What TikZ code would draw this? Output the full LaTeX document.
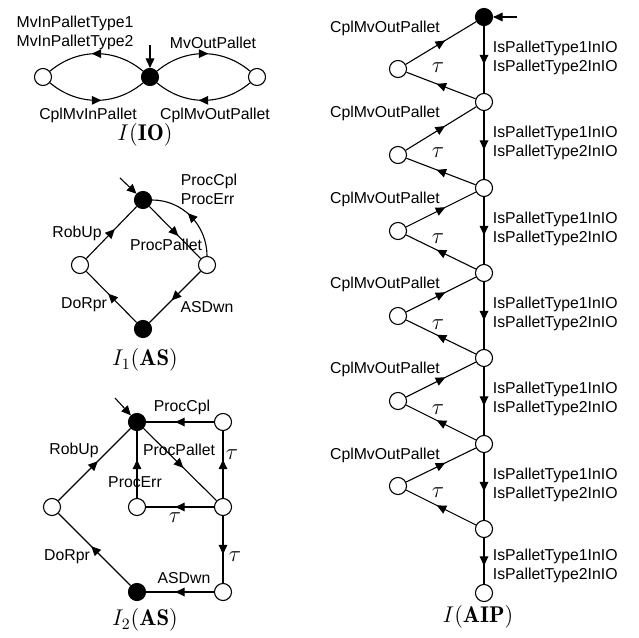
\documentclass[tikz,border=0pt]{standalone}
\usepackage{fontspec}
\newfontfamily\arialfont{Liberation Sans}
\usetikzlibrary{arrows.meta,decorations.markings}
\tikzset{
  st/.style={circle, draw, line width=0.7pt, minimum size=10.8pt, inner sep=0pt, fill=white},
  ist/.style={st, fill=black},
  lbl/.style={font=\arialfont\fontsize{10}{12}\selectfont, inner sep=1pt},
  mlbl/.style={font=\Large, inner sep=1pt},
  tr/.style={line width=0.7pt, postaction={decorate},
    decoration={markings, mark=at position 0.5 with {\arrow[xshift=3pt]{Triangle[length=6pt,width=5.5pt]}}}},
  init/.style={line width=0.7pt, -{Triangle[length=6pt,width=5.5pt]}},
}
\begin{document}
\begin{tikzpicture}[x=0.633pt, y=-0.633pt]
  \useasboundingbox (0,0) rectangle (639,637);
  % I(IO)
  \node[st] (ioL) at (43,77) {}; \node[ist] (io0) at (150,77) {}; \node[st] (ioR) at (257,77) {};
  \coordinate (io0in) at (150,45); \draw[init] (io0in) -- (io0);
  \draw[tr] (io0) to[bend right=40] (ioL); \draw[tr] (ioL) to[bend right=40] (io0);
  \draw[tr] (io0) to[bend left=40] (ioR); \draw[tr] (ioR) to[bend left=40] (io0);
  \node[lbl, align=left] (ioLa) at (75,33) {MvInPalletType1\\MvInPalletType2};
  \node[lbl] (ioLb) at (88,115) {CplMvInPallet};
  \node[lbl] (ioRa) at (213,43) {MvOutPallet};
  \node[lbl] (ioRb) at (215,115) {CplMvOutPallet};
  \node[mlbl] (ioT) at (145,135) {$I(\mathbf{IO})$};
  % I_1(AS)
  \node[ist] (a1t) at (143,200) {}; \node[st] (a1l) at (80,265) {};
  \node[st] (a1r) at (207,265) {}; \node[ist] (a1b) at (143,329) {};
  \coordinate (a1in) at (120,178); \draw[init] (a1in) -- (a1t);
  \draw[tr] (a1l) -- (a1t); \draw[tr] (a1t) -- (a1r); \draw[tr] (a1r) to[out=90, in=0] (a1t);
  \draw[tr] (a1r) -- (a1b); \draw[tr] (a1b) -- (a1l);
  \node[lbl] (a1la) at (77,233) {RobUp};
  \node[lbl] (a1lb) at (166,245) {ProcPallet};
  \node[lbl, align=left] (a1lc) at (209,189) {ProcCpl\\ProcErr};
  \node[lbl] (a1ld) at (84,305) {DoRpr};
  \node[lbl] (a1le) at (207,307) {ASDwn};
  \node[mlbl] (a1T) at (145,360) {$I_1(\mathbf{AS})$};
  % I_2(AS)
  \node[ist] (a2t) at (137,422) {}; \node[st] (a2tr) at (223,422) {};
  \node[st] (a2l) at (52,507) {}; \node[st] (a2m) at (137,507) {}; \node[st] (a2r) at (223,507) {};
  \node[ist] (a2b) at (137,592) {}; \node[st] (a2br) at (223,592) {};
  \coordinate (a2in) at (115,398); \draw[init] (a2in) -- (a2t);
  \draw[tr] (a2tr) -- (a2t); \draw[tr] (a2r) -- (a2tr); \draw[tr] (a2t) -- (a2r);
  \draw[tr] (a2m) -- (a2t); \draw[tr] (a2r) -- (a2m); \draw[tr] (a2r) -- (a2br);
  \draw[tr] (a2br) -- (a2b); \draw[tr] (a2b) -- (a2l); \draw[tr] (a2l) -- (a2t);
  \node[lbl] (a2la) at (182,407) {ProcCpl};
  \node[mlbl] (a2lb) at (232,455) {$\tau$};
  \node[lbl] (a2lc) at (179,450) {ProcPallet};
  \node[lbl] (a2ld) at (135,482) {ProcErr};
  \node[mlbl] (a2le) at (175,518) {$\tau$};
  \node[mlbl] (a2lf) at (235,557) {$\tau$};
  \node[lbl] (a2lg) at (67,557) {DoRpr};
  \node[lbl] (a2lh) at (74,450) {RobUp};
  \node[lbl] (a2li) at (184,578) {ASDwn};
  \node[mlbl] (a2T) at (145,620) {$I_2(\mathbf{AS})$};
  % I(AIP)
  \node[ist] (p0) at (484,17) {}; \coordinate (p0in) at (517,17); \draw[init] (p0in) -- (p0);
  \node[st] (p1) at (484,102) {}; \node[st] (p2) at (484,188) {}; \node[st] (p3) at (484,273) {};
  \node[st] (p4) at (484,358) {}; \node[st] (p5) at (484,444) {}; \node[st] (p6) at (484,529) {};
  \node[st] (p7) at (484,593) {};
  \node[st] (s1) at (398,69) {}; \node[st] (s2) at (398,155) {}; \node[st] (s3) at (398,231) {};
  \node[st] (s4) at (398,316) {}; \node[st] (s5) at (398,401) {}; \node[st] (s6) at (398,486) {};
  \draw[tr] (p0) -- (p1); \draw[tr] (p1) -- (p2); \draw[tr] (p2) -- (p3); \draw[tr] (p3) -- (p4);
  \draw[tr] (p4) -- (p5); \draw[tr] (p5) -- (p6); \draw[tr] (p6) -- (p7);
  \draw[tr] (s1) -- (p0); \draw[tr] (p1) -- (s1); \draw[tr] (s2) -- (p1); \draw[tr] (p2) -- (s2);
  \draw[tr] (s3) -- (p2); \draw[tr] (p3) -- (s3); \draw[tr] (s4) -- (p3); \draw[tr] (p4) -- (s4);
  \draw[tr] (s5) -- (p4); \draw[tr] (p5) -- (s5); \draw[tr] (s6) -- (p5); \draw[tr] (p6) -- (s6);
  \node[lbl] (c1) at (385,28) {CplMvOutPallet}; \node[lbl] (c2) at (385,113) {CplMvOutPallet};
  \node[lbl] (c3) at (385,199) {CplMvOutPallet}; \node[lbl] (c4) at (385,284) {CplMvOutPallet};
  \node[lbl] (c5) at (385,369) {CplMvOutPallet}; \node[lbl] (c6) at (385,455) {CplMvOutPallet};
  \node[mlbl] (t1) at (438,68) {$\tau$}; \node[mlbl] (t2) at (438,153) {$\tau$};
  \node[mlbl] (t3) at (438,239) {$\tau$}; \node[mlbl] (t4) at (438,325) {$\tau$};
  \node[mlbl] (t5) at (438,410) {$\tau$}; \node[mlbl] (t6) at (438,493) {$\tau$};
  \node[lbl, align=left, anchor=west] (i1) at (491,58) {IsPalletType1InIO\\IsPalletType2InIO};
  \node[lbl, align=left, anchor=west] (i2) at (491,143) {IsPalletType1InIO\\IsPalletType2InIO};
  \node[lbl, align=left, anchor=west] (i3) at (491,229) {IsPalletType1InIO\\IsPalletType2InIO};
  \node[lbl, align=left, anchor=west] (i4) at (491,314) {IsPalletType1InIO\\IsPalletType2InIO};
  \node[lbl, align=left, anchor=west] (i5) at (491,399) {IsPalletType1InIO\\IsPalletType2InIO};
  \node[lbl, align=left, anchor=west] (i6) at (491,485) {IsPalletType1InIO\\IsPalletType2InIO};
  \node[lbl, align=left, anchor=west] (i7) at (491,566) {IsPalletType1InIO\\IsPalletType2InIO};
  \node[mlbl] (pT) at (478,617) {$I(\mathbf{AIP})$};
\end{tikzpicture}
\end{document}
